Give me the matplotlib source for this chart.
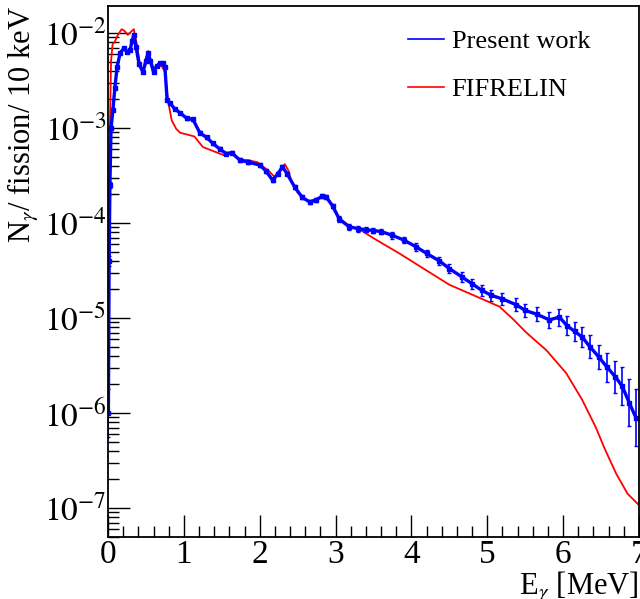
import numpy as np
import matplotlib
matplotlib.use("Agg")
import matplotlib.pyplot as plt
from matplotlib.lines import Line2D
from matplotlib.ticker import MultipleLocator, LogLocator, FixedFormatter, FixedLocator, NullFormatter

plt.rcParams['font.family'] = ['Liberation Serif', 'DejaVu Serif']
plt.rcParams['mathtext.fontset'] = 'stix'

# present work, energy [MeV] and log10(N / fission / 10 keV)
e_meas = [0.005, 0.015, 0.025, 0.04, 0.065, 0.09, 0.12, 0.16, 0.21, 0.25, 0.29, 0.32,
          0.34, 0.37, 0.41, 0.46, 0.50, 0.53, 0.56, 0.60, 0.64, 0.68, 0.72, 0.75,
          0.78, 0.82, 0.88, 0.95, 1.04, 1.12, 1.21, 1.30, 1.38, 1.47, 1.56, 1.63,
          1.74, 1.85, 2.00, 2.08, 2.17, 2.24, 2.30, 2.36, 2.46, 2.56, 2.66, 2.74,
          2.82, 2.88, 2.96, 3.05, 3.18, 3.30, 3.40, 3.50, 3.60, 3.75, 3.90, 4.06,
          4.20, 4.37, 4.50, 4.67, 4.80, 4.93, 5.05, 5.20, 5.38, 5.50, 5.65, 5.82,
          5.95, 6.05, 6.15, 6.25, 6.35, 6.47, 6.58, 6.69, 6.78, 6.87, 6.96]
log_meas = [-6.0, -4.4, -3.6, -3.0, -2.81, -2.58, -2.36, -2.21, -2.16, -2.20, -2.18, -2.08,
            -2.02, -2.15, -2.33, -2.41, -2.30, -2.21, -2.30, -2.41, -2.35, -2.32, -2.32, -2.36,
            -2.71, -2.74, -2.80, -2.84, -2.90, -2.91, -3.05, -3.10, -3.16, -3.22, -3.27, -3.26,
            -3.34, -3.36, -3.39, -3.45, -3.55, -3.48, -3.41, -3.48, -3.62, -3.73, -3.78, -3.76,
            -3.72, -3.73, -3.82, -3.96, -4.04, -4.06, -4.07, -4.08, -4.09, -4.13, -4.18, -4.25,
            -4.32, -4.40, -4.48, -4.57, -4.64, -4.71, -4.76, -4.80, -4.86, -4.92, -4.96, -5.02,
            -4.99, -5.08, -5.14, -5.20, -5.30, -5.41, -5.52, -5.62, -5.72, -5.89, -6.05]
# rough size of the error bars, in decades
err_meas = [0.25, 0.05, 0.03, 0.02, 0.01, 0.01, 0.01, 0.01, 0.01, 0.01, 0.01, 0.01,
            0.01, 0.01, 0.01, 0.01, 0.01, 0.01, 0.01, 0.01, 0.01, 0.01, 0.01, 0.01,
            0.01, 0.01, 0.01, 0.01, 0.015, 0.015, 0.015, 0.015, 0.015, 0.015, 0.015, 0.015,
            0.02, 0.02, 0.02, 0.02, 0.02, 0.02, 0.02, 0.02, 0.02, 0.02, 0.02, 0.02,
            0.02, 0.02, 0.02, 0.03, 0.03, 0.03, 0.03, 0.03, 0.03, 0.035, 0.035, 0.04,
            0.04, 0.045, 0.05, 0.05, 0.055, 0.06, 0.06, 0.065, 0.07, 0.07, 0.075, 0.08,
            0.09, 0.1, 0.1, 0.11, 0.12, 0.13, 0.15, 0.17, 0.2, 0.25, 0.3]

# FIFRELIN calculation
e_calc = [0.005, 0.015, 0.025, 0.04, 0.06, 0.09, 0.13, 0.18, 0.22, 0.26, 0.30, 0.34,
          0.38, 0.42, 0.46, 0.50, 0.53, 0.56, 0.60, 0.64, 0.68, 0.72, 0.75, 0.79,
          0.84, 0.90, 0.95, 1.05, 1.14, 1.25, 1.41, 1.54, 1.63, 1.74, 1.85, 1.97,
          2.05, 2.13, 2.20, 2.27, 2.33, 2.38, 2.42, 2.50, 2.58, 2.66, 2.73, 2.79,
          2.87, 2.96, 3.05, 3.18, 3.32, 3.50, 3.84, 4.20, 4.50, 4.76, 5.16, 5.35,
          5.51, 5.78, 6.04, 6.25, 6.43, 6.55, 6.70, 6.85, 7.0]
log_calc = [-4.88, -4.0, -3.0, -2.3, -2.12, -2.09, -2.02, -1.96, -1.98, -2.02, -1.99, -1.96,
            -2.12, -2.32, -2.40, -2.26, -2.19, -2.27, -2.37, -2.35, -2.34, -2.36, -2.41, -2.71,
            -2.92, -3.01, -3.05, -3.07, -3.09, -3.20, -3.25, -3.29, -3.26, -3.33, -3.34, -3.36,
            -3.41, -3.46, -3.52, -3.45, -3.38, -3.45, -3.57, -3.68, -3.74, -3.77, -3.75, -3.73,
            -3.71, -3.81, -3.95, -4.03, -4.07, -4.16, -4.32, -4.50, -4.65, -4.74, -4.88, -5.02,
            -5.15, -5.34, -5.58, -5.86, -6.15, -6.38, -6.64, -6.85, -6.97]

y_meas = 10 ** np.array(log_meas)
e_lo = y_meas - 10 ** (np.array(log_meas) - np.array(err_meas))
e_hi = 10 ** (np.array(log_meas) + np.array(err_meas)) - y_meas
y_calc = 10 ** np.array(log_calc)

fig = plt.figure(figsize=(6.4, 5.99), dpi=100)
ax = fig.add_axes([108/640, 1 - 537/599, 531/640, 531/599])

ax.errorbar(e_meas, y_meas, yerr=[e_lo, e_hi], fmt='-', color='blue', lw=2.4,
            marker='s', ms=2.5, elinewidth=1.2, capsize=1.5, ecolor='blue')
ax.plot(e_calc, y_calc, color='red', lw=1.3)

ax.set_yscale('log')
ax.set_xlim(0, 7)
ax.set_ylim(10 ** -7.305, 10 ** -1.716)

ax.xaxis.set_major_locator(MultipleLocator(1))
ax.xaxis.set_minor_locator(MultipleLocator(0.2))
ax.yaxis.set_minor_locator(LogLocator(base=10, subs=np.arange(2, 10), numticks=20))
ax.yaxis.set_minor_formatter(NullFormatter())
ytick_vals = [1e-7, 1e-6, 1e-5, 1e-4, 1e-3, 1e-2]
ytick_labels = [r'$10^{-7}$', r'$10^{-6}$', r'$10^{-5}$', r'$10^{-4}$', r'$10^{-3}$', r'$10^{-2}$']
ax.yaxis.set_major_locator(FixedLocator(ytick_vals))
ax.yaxis.set_major_formatter(FixedFormatter(ytick_labels))

ax.tick_params(which='both', direction='in', top=False, right=False, labelsize=24, width=1)
ax.tick_params(which='major', length=16)
ax.tick_params(which='minor', length=8)
ax.tick_params(axis='y', pad=1)
ax.tick_params(axis='x', pad=2)
for s in ax.spines.values():
    s.set_linewidth(1.3)

ax.set_xlabel(r'E$_{\gamma}$ [MeV]', fontsize=22, loc='right', labelpad=0)
ax.set_ylabel(r'N$_{\gamma}$/ fission/ 10 keV', fontsize=22, loc='top', labelpad=2)

handles = [Line2D([], [], color='blue', lw=1.2), Line2D([], [], color='red', lw=1.2)]
ax.legend(handles, ['Present work', 'FIFRELIN'], loc='upper left',
          bbox_to_anchor=(0.565, 0.956), frameon=False, fontsize=19,
          handlelength=1.35, handletextpad=0.3, borderpad=0, borderaxespad=0,
          labelspacing=0.95)

fig.savefig('out.png', dpi=100)
